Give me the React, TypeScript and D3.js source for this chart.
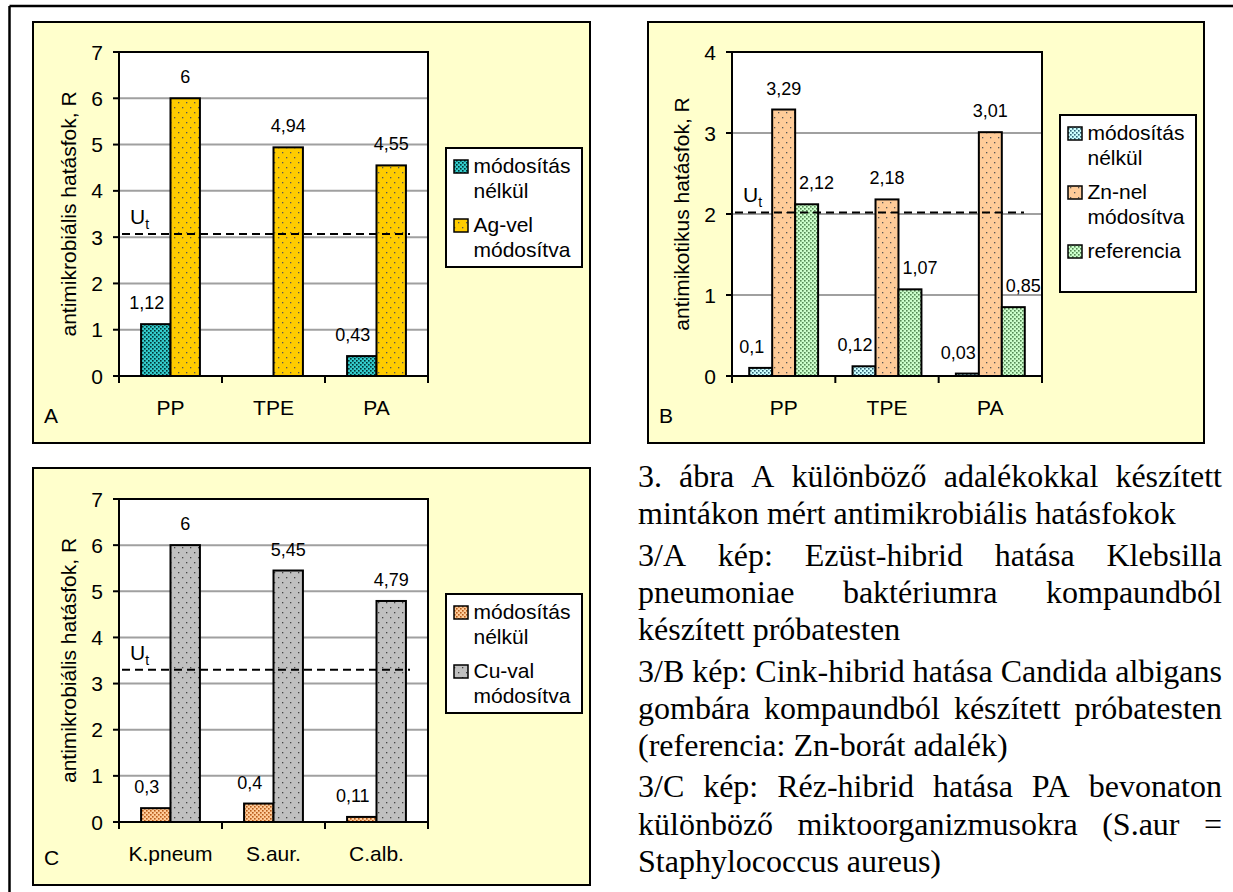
import React, { useEffect, useRef } from 'react';
import * as d3 from 'd3';

// ---------- DATA ----------
const catsAB = ['PP', 'TPE', 'PA'];
const catsC = ['K.pneum', 'S.aur.', 'C.alb.'];

const aNoMod: (number | null)[] = [1.12, null, 0.43];
const aAg = [6, 4.94, 4.55];

const bNoMod = [0.1, 0.12, 0.03];
const bZn = [3.29, 2.18, 3.01];
const bRef = [2.12, 1.07, 0.85];

const cNoMod = [0.3, 0.4, 0.11];
const cCu = [6, 5.45, 4.79];

const ticksA = [0, 1, 2, 3, 4, 5, 6, 7];
const ticksB = [0, 1, 2, 3, 4];
const ticksC = [0, 1, 2, 3, 4, 5, 6, 7];

const utA = 3.07;
const utB = 2.02;
const utC = 3.3;

const legendA = [['módosítás', 'nélkül'], ['Ag-vel', 'módosítva']];
const legendB = [['módosítás', 'nélkül'], ['Zn-nel', 'módosítva'], ['referencia']];
const legendC = [['módosítás', 'nélkül'], ['Cu-val', 'módosítva']];

const titleAC = 'antimikrobiális hatásfok, R';
const titleB = 'antimikotikus hatásfok, R';

const captionParas = [
  ['3. ábra A különböző adalékokkal készített', 'mintákon mért antimikrobiális hatásfokok'],
  ['3/A kép: Ezüst-hibrid hatása Klebsilla', 'pneumoniae baktériumra kompaundból', 'készített próbatesten'],
  ['3/B kép: Cink-hibrid hatása Candida albigans', 'gombára kompaundból készített próbatesten', '(referencia: Zn-borát adalék)'],
  ['3/C kép: Réz-hibrid hatása PA bevonaton', 'különböző miktoorganizmusokra (S.aur =', 'Staphylococcus aureus)'],
];

// ---------- STYLE ----------
const SANS = '"Liberation Sans", Arial, sans-serif';
const SERIF = '"Liberation Serif", "Times New Roman", serif';
const PANEL_BG = '#FFFFCC';
const GRID = '#A0A0A0';

type Series = { values: (number | null)[]; fill: string; legend: string[] };
type PanelProps = {
  box: { x: number; y: number; w: number; h: number };
  plot: { x0: number; x1: number; yTop: number; yBot: number };
  legendBox: { x: number; y: number; w: number; h: number };
  ticks: number[];
  cats: string[];
  series: Series[];
  ut: number;
  letter: string;
  title: string;
};

const fmt = (v: number) => String(v).replace('.', ',');

function Panel(p: PanelProps) {
  const { box, plot, legendBox, ticks, cats, series, ut, letter, title } = p;
  const yMax = d3.max(ticks) as number;
  const y = d3.scaleLinear().domain([0, yMax]).range([plot.yBot, plot.yTop]);
  const xCat = d3.scaleBand<string>().domain(cats).range([plot.x0, plot.x1]).paddingInner(0).paddingOuter(0);
  const cw = xCat.bandwidth();
  const n = series.length;
  const barW = cw / (n + 1.5);
  const groupW = barW * n;
  const xSer = d3.scaleBand<number>().domain(d3.range(n)).range([0, groupW]);
  const catBounds = [...cats.map((c) => xCat(c) as number), plot.x1];

  const labelDx = (si: number) => (si === 0 ? -9 : n === 3 && si === n - 1 ? 10 : 0);

  let lb = legendBox.y + 25;
  const legendRows: { item: number; line: number; y: number }[] = [];
  series.forEach((s, si) => {
    s.legend.forEach((_, li) => {
      legendRows.push({ item: si, line: li, y: lb });
      lb += li < s.legend.length - 1 ? 24.5 : 34.5;
    });
  });

  const titleCx = plot.x0 - 50;
  const titleCy = (plot.yTop + plot.yBot) / 2;
  const utY = y(ut);

  return (
    <g>
      <rect x={box.x} y={box.y} width={box.w} height={box.h} fill={PANEL_BG} stroke="#000" strokeWidth={2} />
      <rect x={plot.x0} y={plot.yTop} width={plot.x1 - plot.x0} height={plot.yBot - plot.yTop} fill="#fff" />
      {ticks.filter((t) => t > 0 && t < yMax).map((t) => (
        <line key={t} x1={plot.x0} x2={plot.x1} y1={y(t)} y2={y(t)} stroke={GRID} strokeWidth={2} />
      ))}
      {cats.map((c, ci) =>
        series.map((s, si) => {
          const v = s.values[ci];
          if (v == null) return null;
          const bx = (xCat(c) as number) + (cw - groupW) / 2 + (xSer(si) as number);
          return (
            <rect key={c + si} x={bx} y={y(v)} width={barW} height={y(0) - y(v)} fill={s.fill} stroke="#000" strokeWidth={2} />
          );
        })
      )}
      {cats.map((c, ci) =>
        series.map((s, si) => {
          const v = s.values[ci];
          if (v == null) return null;
          const bx = (xCat(c) as number) + (cw - groupW) / 2 + (xSer(si) as number) + barW / 2;
          return (
            <text key={'l' + c + si} x={bx + labelDx(si)} y={y(v) - 15} textAnchor="middle" fontFamily={SANS} fontSize={18} fill="#000">
              {fmt(v)}
            </text>
          );
        })
      )}
      <line x1={plot.x0 + 3} x2={plot.x1 - 18} y1={utY} y2={utY} stroke="#000" strokeWidth={2} strokeDasharray="8,5" />
      <text x={plot.x0 + 11} y={utY - 10} fontFamily={SANS} fontSize={21} fill="#000">
        U<tspan fontSize={14} dy={5}>t</tspan>
      </text>
      <rect x={plot.x0} y={plot.yTop} width={plot.x1 - plot.x0} height={plot.yBot - plot.yTop} fill="none" stroke="#000" strokeWidth={2} />
      {ticks.map((t) => (
        <g key={'t' + t}>
          <line x1={plot.x0 - 6} x2={plot.x0} y1={y(t)} y2={y(t)} stroke="#000" strokeWidth={2} />
          <text x={plot.x0 - 16} y={y(t) + 7.5} textAnchor="end" fontFamily={SANS} fontSize={21} fill="#000">
            {t}
          </text>
        </g>
      ))}
      {catBounds.map((bx, i) => (
        <line key={'xt' + i} x1={bx} x2={bx} y1={plot.yBot} y2={plot.yBot + 7} stroke="#000" strokeWidth={2} />
      ))}
      {cats.map((c) => (
        <text key={'c' + c} x={(xCat(c) as number) + cw / 2} y={plot.yBot + 38.5} textAnchor="middle" fontFamily={SANS} fontSize={21} fill="#000">
          {c}
        </text>
      ))}
      <text
        transform={`translate(${titleCx},${titleCy}) rotate(-90)`}
        textAnchor="middle"
        dy={7}
        fontFamily={SANS}
        fontSize={21}
        fill="#000"
      >
        {title}
      </text>
      <text x={box.x + 11} y={box.y + box.h - 20} fontFamily={SANS} fontSize={21} fill="#000">
        {letter}
      </text>
      <rect x={legendBox.x} y={legendBox.y} width={legendBox.w} height={legendBox.h} fill="#fff" stroke="#000" strokeWidth={2} />
      {legendRows.map((r, i) => (
        <g key={'lg' + i}>
          {r.line === 0 && (
            <rect x={legendBox.x + 8} y={r.y - 13} width={14} height={13} fill={series[r.item].fill} stroke="#000" strokeWidth={1.5} />
          )}
          <text x={legendBox.x + 27.5} y={r.y} fontFamily={SANS} fontSize={21} fill="#000">
            {series[r.item].legend[r.line]}
          </text>
        </g>
      ))}
    </g>
  );
}

function Dense({ id, base, dot }: { id: string; base: string; dot: string }) {
  return (
    <pattern id={id} width={4} height={4} patternUnits="userSpaceOnUse">
      <rect width={4} height={4} fill={base} />
      <rect x={0} y={0} width={1.6} height={1.6} fill={dot} />
      <rect x={2} y={2} width={1.6} height={1.6} fill={dot} />
    </pattern>
  );
}
function Sparse({ id, base, dot }: { id: string; base: string; dot: string }) {
  return (
    <pattern id={id} width={8} height={10} patternUnits="userSpaceOnUse">
      <rect width={8} height={10} fill={base} />
      <rect x={2} y={2} width={1.3} height={1.3} fill={dot} />
      <rect x={6} y={7} width={1.3} height={1.3} fill={dot} />
    </pattern>
  );
}

export default function App() {
  const capRef = useRef<SVGGElement>(null);

  useEffect(() => {
    const g = d3.select(capRef.current);
    g.selectAll('*').remove();
    const capX = 638;
    const capW = 584;
    const fs = 32;
    let yy = 487;
    captionParas.forEach((para) => {
      para.forEach((line, li) => {
        const justify = li < para.length - 1;
        const words = line.split(' ');
        const nodes = words.map((w) =>
          g.append('text').attr('y', yy).attr('font-family', SERIF).attr('font-size', fs).attr('fill', '#000').text(w)
        );
        const widths = nodes.map((nd) => (nd.node() as SVGTextElement).getComputedTextLength());
        const total = d3.sum(widths);
        const gap = justify && words.length > 1 ? (capW - total) / (words.length - 1) : fs * 0.25;
        let x = capX;
        nodes.forEach((nd, i) => {
          nd.attr('x', x);
          x += widths[i] + gap;
        });
        yy += 37.3;
      });
      yy += 4;
    });
  }, []);

  return (
    <svg width={1233} height={892} style={{ position: 'absolute', left: 0, top: 0, background: '#fff' }}>
      <defs>
        <Dense id="pTeal" base="#33CCCC" dot="#003333" />
        <Sparse id="pGold" base="#FFCC00" dot="#555" />
        <Dense id="pCyan" base="#CCFFFF" dot="#336677" />
        <Sparse id="pPeach" base="#FFCC99" dot="#555" />
        <Dense id="pGreen" base="#CCFFCC" dot="#558855" />
        <Dense id="pOrange" base="#FFCC99" dot="#B85C1A" />
        <Sparse id="pGray" base="#C0C0C0" dot="#444" />
      </defs>
      <rect width={1233} height={892} fill="#fff" />
      <line x1={9.5} x2={1233} y1={6} y2={6} stroke="#000" strokeWidth={2.5} />
      <line x1={9.5} x2={9.5} y1={6} y2={892} stroke="#000" strokeWidth={2.5} />

      <Panel
        box={{ x: 33, y: 22, w: 557, h: 421 }}
        plot={{ x0: 119, x1: 428, yTop: 52, yBot: 376 }}
        legendBox={{ x: 446, y: 148, w: 136, h: 119 }}
        ticks={ticksA}
        cats={catsAB}
        series={[
          { values: aNoMod, fill: 'url(#pTeal)', legend: legendA[0] },
          { values: aAg, fill: 'url(#pGold)', legend: legendA[1] },
        ]}
        ut={utA}
        letter="A"
        title={titleAC}
      />
      <Panel
        box={{ x: 648, y: 22, w: 556, h: 421 }}
        plot={{ x0: 732, x1: 1042, yTop: 52, yBot: 376 }}
        legendBox={{ x: 1060, y: 115, w: 136, h: 177 }}
        ticks={ticksB}
        cats={catsAB}
        series={[
          { values: bNoMod, fill: 'url(#pCyan)', legend: legendB[0] },
          { values: bZn, fill: 'url(#pPeach)', legend: legendB[1] },
          { values: bRef, fill: 'url(#pGreen)', legend: legendB[2] },
        ]}
        ut={utB}
        letter="B"
        title={titleB}
      />
      <Panel
        box={{ x: 33, y: 468, w: 557, h: 417 }}
        plot={{ x0: 119, x1: 428, yTop: 499, yBot: 822 }}
        legendBox={{ x: 446, y: 594, w: 136, h: 119 }}
        ticks={ticksC}
        cats={catsC}
        series={[
          { values: cNoMod, fill: 'url(#pOrange)', legend: legendC[0] },
          { values: cCu, fill: 'url(#pGray)', legend: legendC[1] },
        ]}
        ut={utC}
        letter="C"
        title={titleAC}
      />
      <g ref={capRef} />
    </svg>
  );
}
